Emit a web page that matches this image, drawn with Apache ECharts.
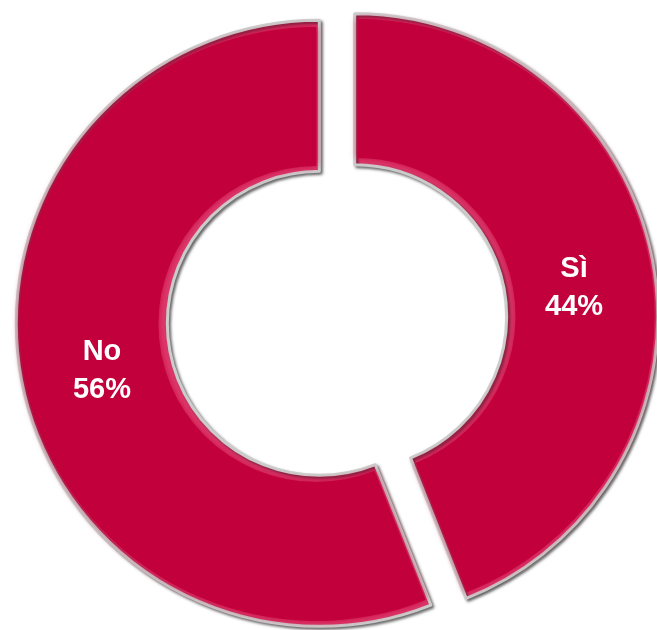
<!DOCTYPE html>
<html>
<head>
<meta charset="utf-8">
<title>Sì / No</title>
<script src="https://cdn.jsdelivr.net/npm/echarts@6/dist/echarts.min.js"></script>
<style>
  html, body { margin: 0; padding: 0; background: #ffffff; }
  #chart { width: 657px; height: 630px; }
</style>
</head>
<body>
<div id="chart"></div>
<script>
// Answer categories and their shares (percent)
const categories = ['Sì', 'No'];
const shares = [44, 56];

const chart = echarts.init(document.getElementById('chart'), null, { renderer: 'canvas' });

const CENTER = [337, 320];
const R_IN = 152;
const R_OUT = 303;
const OFFSET = 18;

// small per-slice nudges for the inside labels (dx, dy in px)
const labelNudge = [[-10, 15], [12, 4]];

function slices() {
  return categories.map((name, i) => ({ name: name, value: shares[i], selected: true }));
}

const option = {
  animation: false,
  backgroundColor: '#ffffff',
  series: [
    {
      // base ring: bevel rim colour, grey outline and drop shadow
      type: 'pie',
      center: CENTER,
      radius: [R_IN, R_OUT],
      startAngle: 90,
      clockwise: true,
      selectedMode: 'multiple',
      selectedOffset: OFFSET,
      silent: true,
      avoidLabelOverlap: false,
      label: { show: false },
      labelLine: { show: false },
      emphasis: { disabled: true },
      itemStyle: {
        color: '#DE3A6C',
        borderColor: '#cdcdcd',
        borderWidth: 3,
        shadowColor: 'rgba(0,0,0,0.5)',
        shadowBlur: 3,
        shadowOffsetX: 2,
        shadowOffsetY: 2
      },
      data: slices()
    },
    {
      // face of each slice, inset slightly so the rim shows round it
      type: 'pie',
      center: CENTER,
      radius: [R_IN + 6, R_OUT - 6],
      startAngle: 90,
      clockwise: true,
      selectedMode: 'multiple',
      selectedOffset: OFFSET + 3,
      silent: true,
      avoidLabelOverlap: false,
      labelLine: { show: false },
      emphasis: { disabled: true },
      itemStyle: {
        color: '#C2003C',
        shadowColor: 'rgba(194,0,60,0.85)',
        shadowBlur: 7
      },
      label: {
        show: true,
        position: 'inside',
        formatter: p => p.name + '\n' + p.value + '%',
        color: '#ffffff',
        fontFamily: '"Liberation Sans", Arial, sans-serif',
        fontWeight: 'bold',
        fontSize: 29,
        lineHeight: 38,
        align: 'center'
      },
      labelLayout: params => ({
        dx: labelNudge[params.dataIndex][0],
        dy: labelNudge[params.dataIndex][1]
      }),
      data: slices()
    }
  ]
};

chart.setOption(option);
</script>
</body>
</html>
